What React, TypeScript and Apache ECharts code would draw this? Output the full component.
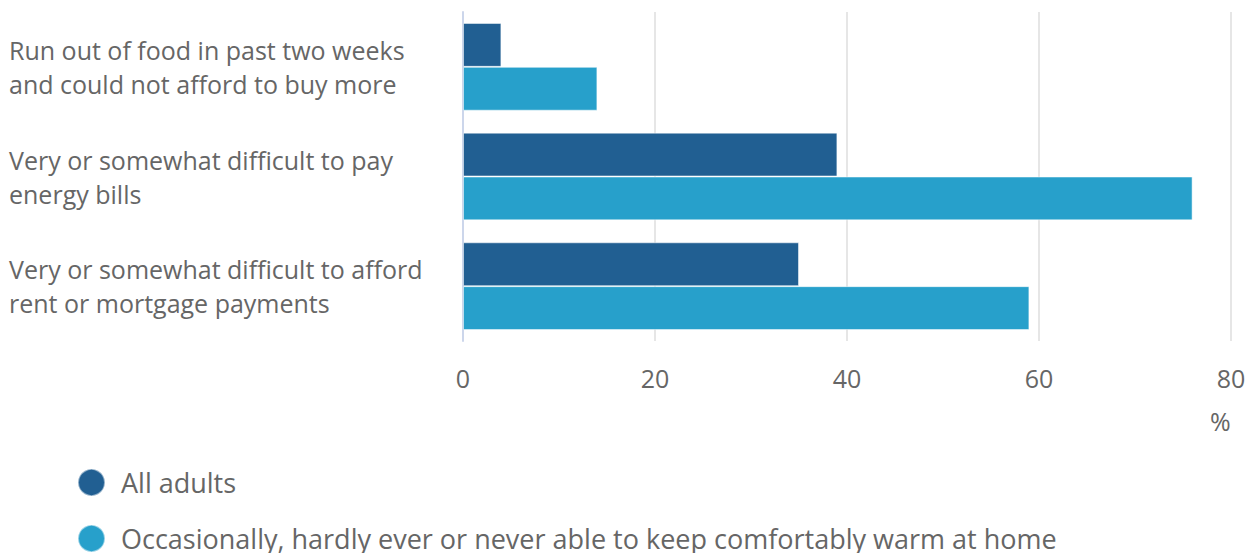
import React, { useEffect, useRef } from "react";
import * as echarts from "echarts";

const categories = [
  "Run out of food in past two weeks\nand could not afford to buy more",
  "Very or somewhat difficult to pay\nenergy bills",
  "Very or somewhat difficult to afford\nrent or mortgage payments",
];
const seriesNames = [
  "All adults",
  "Occasionally, hardly ever or never able to keep comfortably warm at home",
];
const allAdults = [4, 39, 35];
const notWarm = [14, 76, 59];
const xTicks = [0, 20, 40, 60, 80];

export default function App() {
  const ref = useRef<HTMLDivElement>(null);
  useEffect(() => {
    document.body.style.margin = "0";
    if (!ref.current) return;
    const chart = echarts.init(ref.current, undefined, { renderer: "svg" });
    const font = "'Open Sans', sans-serif";
    chart.setOption({
      animation: false,
      textStyle: { fontFamily: font },
      grid: { left: 463, right: 21, top: 12, bottom: 212, containLabel: false },
      xAxis: {
        type: "value",
        min: xTicks[0],
        max: xTicks[xTicks.length - 1],
        interval: 20,
        axisLine: { show: false },
        axisTick: { show: false },
        splitLine: { lineStyle: { color: "#e6e6e6", width: 2 } },
        axisLabel: { fontSize: 25, color: "#666666", margin: 24, fontFamily: font },
      },
      yAxis: {
        type: "category",
        inverse: true,
        data: categories,
        axisLine: { lineStyle: { color: "#ccd6eb", width: 2 } },
        axisTick: { length: 20, lineStyle: { color: "#ccd6eb", width: 2 } },
        axisLabel: {
          align: "left",
          margin: 454,
          fontSize: 25,
          lineHeight: 34,
          color: "#666666",
          fontFamily: font,
        },
      },
      legend: {
        orient: "vertical",
        left: 77,
        top: 468,
        height: 200,
        padding: 0,
        icon: "circle",
        itemWidth: 27,
        itemHeight: 27,
        itemGap: 27,
        textStyle: {
          fontSize: 27,
          color: "#666666",
          fontFamily: font,
          padding: [0, 0, 0, 11],
          lineHeight: 27,
        },
        data: seriesNames,
      },
      graphic: [
        {
          type: "text",
          left: 1210,
          top: 408,
          style: { text: "%", fontSize: 25, fill: "#666666", fontFamily: font },
        },
      ],
      series: [
        {
          name: seriesNames[0],
          type: "bar",
          data: allAdults,
          barGap: "0%",
          barCategoryGap: "20%",
          itemStyle: { color: "#215f92", borderColor: "rgba(255,255,255,0.5)", borderWidth: 1 },
        },
        {
          name: seriesNames[1],
          type: "bar",
          data: notWarm,
          barGap: "0%",
          barCategoryGap: "20%",
          itemStyle: { color: "#27a0cb", borderColor: "rgba(255,255,255,0.5)", borderWidth: 1 },
        },
      ],
    });
    return () => chart.dispose();
  }, []);
  return <div ref={ref} style={{ width: 1252, height: 553 }} />;
}
